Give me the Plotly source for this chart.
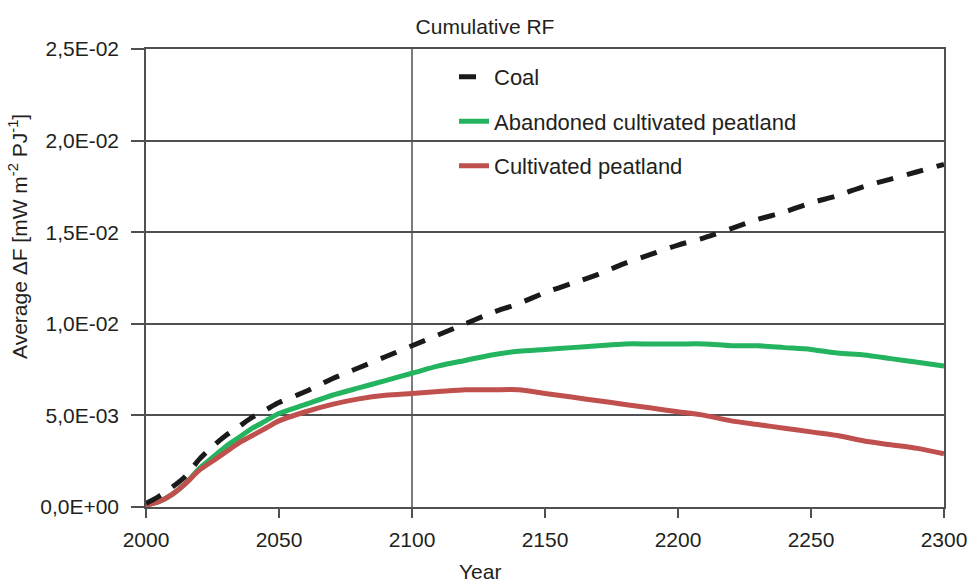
import plotly.graph_objects as go

years = [2000, 2005, 2010, 2015, 2020, 2025, 2030, 2035, 2040, 2045, 2050,
         2060, 2070, 2080, 2090, 2100, 2110, 2120, 2130, 2140, 2150, 2160,
         2170, 2180, 2190, 2200, 2210, 2220, 2230, 2240, 2250, 2260, 2270,
         2280, 2290, 2300]

coal = [0.0002, 0.0006, 0.0011, 0.0017, 0.0026, 0.0033, 0.0039, 0.0044, 0.0049, 0.0053, 0.0057,
        0.0063, 0.0070, 0.0076, 0.0082, 0.0088, 0.0094, 0.0100, 0.0106, 0.0111, 0.0117, 0.0122,
        0.0127, 0.0133, 0.0138, 0.0143, 0.0147, 0.0152, 0.0157, 0.0161, 0.0166, 0.0170, 0.0175,
        0.0179, 0.0183, 0.0187]

abandoned = [0.0001, 0.0003, 0.0007, 0.0013, 0.0021, 0.0027, 0.0033, 0.0038, 0.0043, 0.0047, 0.0051,
             0.0056, 0.0061, 0.0065, 0.0069, 0.0073, 0.0077, 0.0080, 0.0083, 0.0085, 0.0086, 0.0087,
             0.0088, 0.0089, 0.0089, 0.0089, 0.0089, 0.0088, 0.0088, 0.0087, 0.0086, 0.0084, 0.0083,
             0.0081, 0.0079, 0.0077]

cultivated = [0.0001, 0.0003, 0.0007, 0.0013, 0.0020, 0.0025, 0.0030, 0.0035, 0.0039, 0.0043, 0.0047,
              0.0052, 0.0056, 0.0059, 0.0061, 0.0062, 0.0063, 0.0064, 0.0064, 0.0064, 0.0062, 0.0060,
              0.0058, 0.0056, 0.0054, 0.0052, 0.0050, 0.0047, 0.0045, 0.0043, 0.0041, 0.0039, 0.0036,
              0.0034, 0.0032, 0.0029]

x_tickvals = [2000, 2050, 2100, 2150, 2200, 2250, 2300]
y_tickvals = [0, 0.005, 0.010, 0.015, 0.020, 0.025]
y_ticktext = ["0,0E+00", "5,0E-03", "1,0E-02", "1,5E-02", "2,0E-02", "2,5E-02"]
ref_year = 2100

FONT = "Liberation Sans, Arial, sans-serif"
AX = "#505050"
FS = 21

fig = go.Figure()
fig.add_trace(go.Scatter(x=years, y=abandoned, mode="lines", name="Abandoned cultivated peatland",
                         line=dict(color="#24b35e", width=5, shape="spline", smoothing=0.8),
                         legendgroup="b", legendrank=2, cliponaxis=False))
fig.add_trace(go.Scatter(x=years, y=cultivated, mode="lines", name="Cultivated peatland",
                         line=dict(color="#c0504d", width=5, shape="spline", smoothing=0.8),
                         legendgroup="c", legendrank=3, cliponaxis=False))
fig.add_trace(go.Scatter(x=years, y=coal, mode="lines", name="Coal",
                         line=dict(color="#1a1a1a", width=5, dash="17px,14px", shape="spline",
                                   smoothing=0.8),
                         legendgroup="a", legendrank=1, cliponaxis=False))

fig.add_shape(type="line", xref="x", yref="paper", x0=ref_year, x1=ref_year, y0=0, y1=1,
              line=dict(color=AX, width=1.5), layer="below")

fig.update_layout(
    width=969, height=583,
    margin=dict(l=146, r=25, t=49, b=76, autoexpand=False),
    paper_bgcolor="white", plot_bgcolor="white",
    font=dict(family=FONT, size=FS, color="#231f20"),
    title=dict(text="Cumulative RF", x=485 / 969, xref="container", xanchor="center",
               y=1 - 27 / 583, yref="container", yanchor="middle", font=dict(size=FS)),
    showlegend=True,
    legend=dict(x=(454 - 146) / 798, y=0.985, xanchor="left", yanchor="top",
                bgcolor="rgba(0,0,0,0)", font=dict(size=FS + 1), tracegroupgap=13),
    xaxis=dict(range=[2000, 2300], tickvals=x_tickvals, showgrid=False, zeroline=False,
               showline=True, linecolor=AX, linewidth=1.5, mirror=True,
               ticks="outside", ticklen=9, tickwidth=1.5, tickcolor=AX, automargin=False,
               ticklabelstandoff=4, tickfont=dict(size=FS)),
    yaxis=dict(range=[0, 0.025], tickvals=y_tickvals, ticktext=y_ticktext, showgrid=True,
               gridcolor=AX, gridwidth=1.5, zeroline=False, automargin=False,
               showline=True, linecolor=AX, linewidth=1.5, mirror=True,
               ticks="outside", ticklen=13, tickwidth=1.5, tickcolor=AX,
               ticklabelstandoff=8, tickfont=dict(size=FS)),
    annotations=[
        dict(text="Average ΔF [mW m<sup>-2</sup> PJ<sup>-1</sup>]", xref="paper", yref="paper",
             x=(18 - 146) / 798, y=(507 - 237) / 458, xanchor="center", yanchor="middle",
             textangle=-90, showarrow=False, font=dict(size=FS)),
        dict(text="Year", xref="paper", yref="paper", x=(480 - 146) / 798, y=(507 - 571) / 458,
             xanchor="center", yanchor="middle", showarrow=False, font=dict(size=FS)),
    ],
)

fig.write_html("out.html")
